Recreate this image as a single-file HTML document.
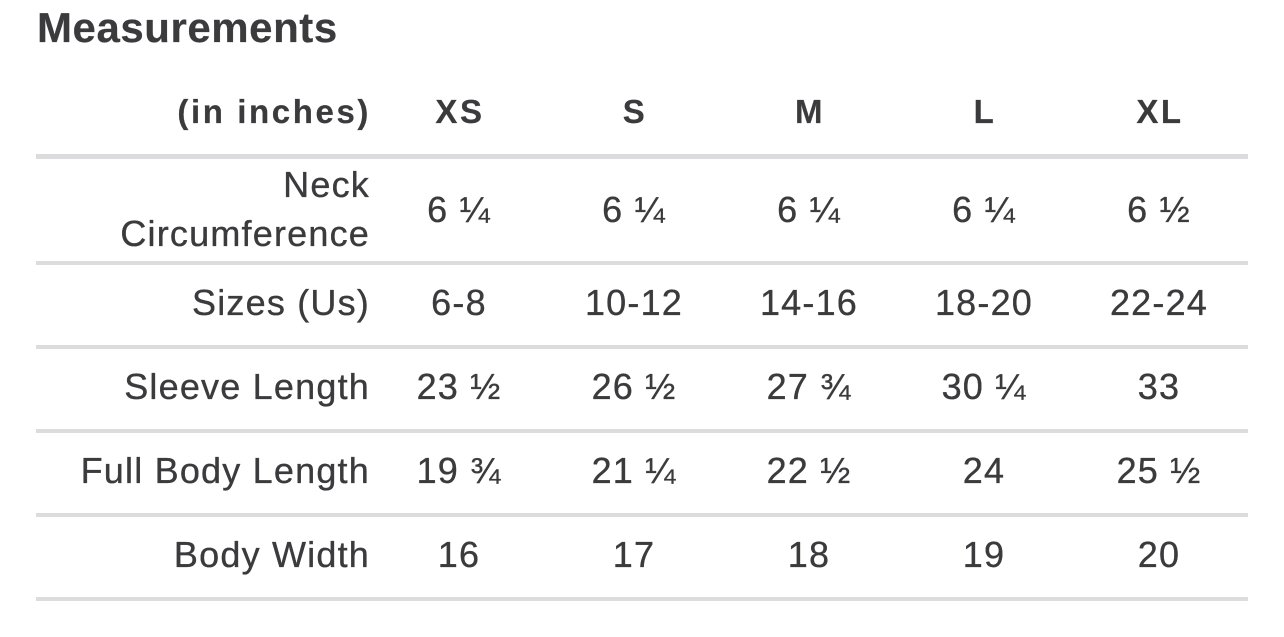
<!DOCTYPE html>
<html>
<head>
<meta charset="utf-8">
<style>
  html, body { margin: 0; padding: 0; background: #ffffff; }
  body { width: 1284px; height: 637px; overflow: hidden; }
  svg { display: block; }
  .t { font-family: "Liberation Sans", Arial, sans-serif; fill: #3b3b3d; stroke: #3b3b3d; stroke-width: 0.35px; }
  .title { font-size: 42px; font-weight: bold; letter-spacing: 0.55px; stroke-width: 0.2px; }
  .hd { font-size: 33px; font-weight: bold; letter-spacing: 2.6px; stroke-width: 0.2px; }
  .bd { font-size: 36px; letter-spacing: 1.2px; }
  .r { text-anchor: end; }
  .c { text-anchor: middle; }
</style>
</head>
<body>
<svg width="1284" height="637" viewBox="0 0 1284 637" xmlns="http://www.w3.org/2000/svg">
  <rect x="0" y="0" width="1284" height="637" fill="#ffffff"/>

  <!-- Title -->
  <text class="t title" x="37" y="42">Measurements</text>

  <!-- Header -->
  <text class="t hd r" x="371" y="123">(in inches)</text>
  <text class="t hd c" x="460" y="123">XS</text>
  <text class="t hd c" x="635" y="123">S</text>
  <text class="t hd c" x="810" y="123">M</text>
  <text class="t hd c" x="985" y="123">L</text>
  <text class="t hd c" x="1160" y="123">XL</text>

  <!-- Rules -->
  <rect x="36" y="154" width="1212" height="5" fill="#dcdcdf"/>
  <rect x="36" y="261" width="1212" height="4" fill="#dcdcdf"/>
  <rect x="36" y="345" width="1212" height="4" fill="#dcdcdf"/>
  <rect x="36" y="429" width="1212" height="4" fill="#dcdcdf"/>
  <rect x="36" y="513" width="1212" height="4" fill="#dcdcdf"/>
  <rect x="36" y="597" width="1212" height="4" fill="#dcdcdf"/>

  <!-- Row 1: Neck Circumference -->
  <text class="t bd r" x="370" y="197">Neck</text>
  <text class="t bd r" x="370" y="246">Circumference</text>
  <text class="t bd c" x="459" y="222">6 ¼</text>
  <text class="t bd c" x="634" y="222">6 ¼</text>
  <text class="t bd c" x="809" y="222">6 ¼</text>
  <text class="t bd c" x="984" y="222">6 ¼</text>
  <text class="t bd c" x="1159" y="222">6 ½</text>

  <!-- Row 2: Sizes (Us) -->
  <text class="t bd r" x="370" y="315">Sizes (Us)</text>
  <text class="t bd c" x="459" y="315">6-8</text>
  <text class="t bd c" x="634" y="315">10-12</text>
  <text class="t bd c" x="809" y="315">14-16</text>
  <text class="t bd c" x="984" y="315">18-20</text>
  <text class="t bd c" x="1159" y="315">22-24</text>

  <!-- Row 3: Sleeve Length -->
  <text class="t bd r" x="370" y="399">Sleeve Length</text>
  <text class="t bd c" x="459" y="399">23 ½</text>
  <text class="t bd c" x="634" y="399">26 ½</text>
  <text class="t bd c" x="809" y="399">27 ¾</text>
  <text class="t bd c" x="984" y="399">30 ¼</text>
  <text class="t bd c" x="1159" y="399">33</text>

  <!-- Row 4: Full Body Length -->
  <text class="t bd r" x="370" y="483">Full Body Length</text>
  <text class="t bd c" x="459" y="483">19 ¾</text>
  <text class="t bd c" x="634" y="483">21 ¼</text>
  <text class="t bd c" x="809" y="483">22 ½</text>
  <text class="t bd c" x="984" y="483">24</text>
  <text class="t bd c" x="1159" y="483">25 ½</text>

  <!-- Row 5: Body Width -->
  <text class="t bd r" x="370" y="567">Body Width</text>
  <text class="t bd c" x="459" y="567">16</text>
  <text class="t bd c" x="634" y="567">17</text>
  <text class="t bd c" x="809" y="567">18</text>
  <text class="t bd c" x="984" y="567">19</text>
  <text class="t bd c" x="1159" y="567">20</text>
</svg>
</body>
</html>
